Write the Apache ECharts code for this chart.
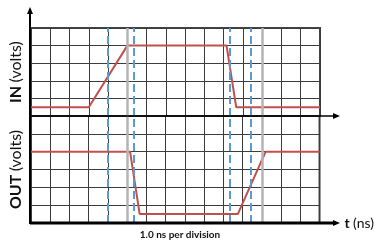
<!DOCTYPE html>
<html>
<head>
<meta charset="utf-8">
<script src="https://cdn.jsdelivr.net/npm/echarts@6/dist/echarts.min.js"></script>
<style>
  html, body { margin: 0; padding: 0; background: #fff; }
  #chart { width: 375px; height: 245px; }
</style>
</head>
<body>
<div id="chart"></div>
<script>
// input / output waveforms, time in divisions (1 div = 1.0 ns)
const inTime = [0, 3, 5, 10.15, 10.65, 15]
const inVolts = [0.5, 0.5, 4, 4, 0.5, 0.5]
const outTime = [0, 5.15, 5.65, 10.75, 12.2, 15]
const outVolts = [4, 4, 0.5, 0.5, 4, 4]
// dashed 50% markers and the two heavier division lines
const markerTimes = [4.0, 5.33, 10.32, 11.42]
const heavyDivs = [5, 12]

const FONT = 'Lato, "Open Sans", sans-serif'
const RED = '#c0504d'
const BLUE = '#5b9bd5'

const chart = echarts.init(document.getElementById('chart'), null, { renderer: 'canvas' })

const zip = (xs, ys) => xs.map((x, i) => [x, ys[i]])

const xAxisBase = {
  type: 'value', min: 0, max: 15, interval: 1,
  axisLine: { show: false }, axisTick: { show: false }, axisLabel: { show: false },
  splitLine: { show: true, lineStyle: { color: '#3c3c3c', width: 1 } }
}
const yAxisBase = {
  type: 'value', min: 0, interval: 1,
  axisLine: { show: false }, axisTick: { show: false }, axisLabel: { show: false },
  splitLine: { show: true, lineStyle: { color: '#3c3c3c', width: 1 } },
  nameLocation: 'middle', nameRotate: 90, nameGap: 7,
  nameTextStyle: {
    rich: {
      b: { fontFamily: FONT, fontSize: 16, fontWeight: 'bold', color: '#111' },
      r: { fontFamily: FONT, fontSize: 16, color: '#111' }
    }
  }
}

const heavyLines = idx => ({
  type: 'line', xAxisIndex: idx, yAxisIndex: idx, data: [], z: 1,
  markLine: {
    silent: true, symbol: 'none', label: { show: false },
    lineStyle: { type: 'solid', color: '#b4b4b4', width: 2.5 },
    data: heavyDivs.map(t => ({ xAxis: t }))
  }
})
const markers = idx => ({
  type: 'line', xAxisIndex: idx, yAxisIndex: idx, data: [], z: 4,
  markLine: {
    silent: true, symbol: 'none', label: { show: false },
    lineStyle: { type: [8, 4], color: BLUE, width: 2 },
    data: markerTimes.map(t => ({ xAxis: t }))
  }
})
const wave = (idx, data) => ({
  type: 'line', xAxisIndex: idx, yAxisIndex: idx, data, z: 3,
  symbol: 'none', animation: false,
  lineStyle: { color: RED, width: 2 }
})

const arrow = (x, y, dir) => {
  const pts = dir === 'up'
    ? [[x, y], [x - 3, y + 7], [x + 3, y + 7]]
    : [[x, y], [x - 7, y - 3], [x - 7, y + 3]]
  return { type: 'polygon', shape: { points: pts }, style: { fill: '#000' }, z: 10 }
}
const hline = (x1, x2, y, w) => ({
  type: 'line', shape: { x1, y1: y, x2, y2: y }, style: { stroke: '#000', lineWidth: w }, z: 10
})

const option = {
  animation: false,
  grid: [
    { left: 30, top: 28, width: 290, height: 88, show: true, borderColor: '#444', borderWidth: 2 },
    { left: 30, top: 116, width: 290, height: 107, show: true, borderColor: '#444', borderWidth: 2 }
  ],
  xAxis: [
    { ...xAxisBase, gridIndex: 0 },
    {
      ...xAxisBase, gridIndex: 1,
      name: '{b|t} {r|(ns)}', nameLocation: 'end', nameGap: 25,
      nameTextStyle: {
        rich: {
          b: { fontFamily: FONT, fontSize: 14, fontWeight: 'bold', color: '#111' },
          r: { fontFamily: FONT, fontSize: 14, color: '#111' }
        }
      }
    }
  ],
  yAxis: [
    { ...yAxisBase, gridIndex: 0, max: 5, name: '{b|IN} {r|(volts)}' },
    { ...yAxisBase, gridIndex: 1, max: 6, name: '{b|OUT} {r|(volts)}' }
  ],
  title: {
    text: '1.0 ns per division', left: 175, textAlign: 'center', bottom: 0,
    textStyle: { fontFamily: FONT, fontSize: 10, fontWeight: 'bold', color: '#111' }
  },
  series: [
    heavyLines(0), heavyLines(1),
    wave(0, zip(inTime, inVolts)), wave(1, zip(outTime, outVolts)),
    markers(0), markers(1)
  ],
  graphic: [
    // left axis with arrow
    { type: 'line', shape: { x1: 30, y1: 224, x2: 30, y2: 10 }, style: { stroke: '#000', lineWidth: 2 }, z: 10 },
    arrow(30, 7, 'up'),
    // middle time axis
    hline(30, 334, 116, 1.5),
    arrow(340, 116, 'right'),
    // bottom time axis
    hline(30, 334, 223, 3),
    arrow(340, 223, 'right')
  ]
}

chart.setOption(option)
window.addEventListener('resize', () => chart.resize())
</script>
</body>
</html>
